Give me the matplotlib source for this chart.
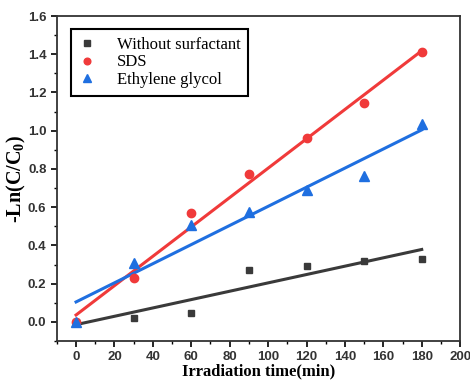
import numpy as np
import matplotlib
matplotlib.use("Agg")
import matplotlib.pyplot as plt
from matplotlib.ticker import MultipleLocator

time = [0, 30, 60, 90, 120, 150, 180]
without = [0.0, 0.02, 0.045, 0.27, 0.29, 0.32, 0.33]
sds = [0.0, 0.23, 0.57, 0.775, 0.96, 1.145, 1.41]
eg = [0.0, 0.31, 0.505, 0.575, 0.69, 0.765, 1.035]
labels = ["Without surfactant", "SDS", "Ethylene glycol"]

plt.rcParams['mathtext.fontset'] = 'custom'
plt.rcParams['mathtext.rm'] = 'Liberation Serif'
plt.rcParams['mathtext.bf'] = 'Liberation Serif:bold'

fig = plt.figure(figsize=(4.7, 3.81), dpi=100)
ax = fig.add_axes([0.121, 0.105, 0.858, 0.853])

series = [(without, '#3a3a3a', 's', 5), (sds, '#f03a3a', 'o', 6), (eg, '#1f6fe0', '^', 6.5)]
x = np.array(time, dtype=float)
handles = []
for (y, c, m, ms), lab in zip(series, labels):
    y = np.array(y)
    h, = ax.plot(x, y, linestyle='none', marker=m, color=c, markersize=ms, label=lab, zorder=3)
    handles.append(h)
    k, b = np.polyfit(x, y, 1)
    ax.plot([0, 180], [b, k * 180 + b], color=c, lw=2.2, zorder=2)

ax.set_xlim(-10, 200)
ax.set_ylim(-0.1, 1.6)
ax.xaxis.set_major_locator(MultipleLocator(20))
ax.xaxis.set_minor_locator(MultipleLocator(10))
ax.yaxis.set_major_locator(MultipleLocator(0.2))
ax.yaxis.set_minor_locator(MultipleLocator(0.1))
ax.tick_params(which='both', direction='out', top=False, right=False)
ax.tick_params(which='major', length=4, width=1.2)
ax.tick_params(which='minor', length=2.5, width=1)
for lab in ax.get_xticklabels() + ax.get_yticklabels():
    lab.set_fontfamily('Liberation Sans')
    lab.set_fontweight('bold')
    lab.set_fontsize(9.5)
    lab.set_color('#333333')
for s in ax.spines.values():
    s.set_linewidth(1.3)
    s.set_color('#333333')

ax.set_xlabel('Irradiation time(min)', fontfamily='Liberation Serif', fontweight='bold', fontsize=12, labelpad=0)
ax.set_ylabel(r'-Ln(C/C$\mathbf{_0}$)', fontfamily='Liberation Serif', fontweight='bold', fontsize=14.5, labelpad=0)

leg = ax.legend(handles=handles, loc='upper left', bbox_to_anchor=(0.015, 0.985),
                prop={'family': 'Liberation Serif', 'size': 12}, fancybox=False,
                edgecolor='black', framealpha=1, handlelength=1.0, handletextpad=1.3,
                labelspacing=0.1, borderpad=0.45, markerscale=0.8)
leg.get_frame().set_linewidth(1.5)

fig.savefig('out.png', dpi=100)
